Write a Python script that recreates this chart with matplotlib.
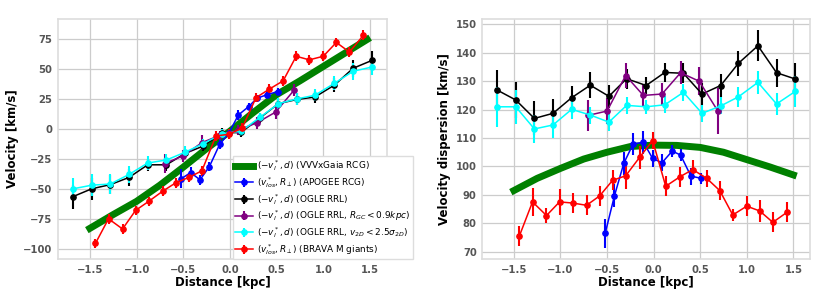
import matplotlib
matplotlib.use('Agg')
from matplotlib import pyplot as plt

# model curve (VVVxGaia RCG)
x_model = [-1.5, -1.25, -1.0, -0.75, -0.5, -0.25, 0.0, 0.25, 0.5, 0.75, 1.0, 1.25, 1.47]
v_model = [-82.5, -71, -60, -46.5, -31.5, -16, -1.5, 14, 29, 40.5, 52.5, 64.5, 75]
x_model_s = [-1.5, -1.25, -1.0, -0.75, -0.5, -0.25, 0.0, 0.25, 0.5, 0.75, 1.0, 1.25, 1.5]
s_model = [91.5, 95.8, 99.3, 102.6, 105.0, 107.0, 107.5, 107.4, 106.7, 105.0, 102.4, 99.8, 97.0]

# APOGEE RCG
x_apo = [-0.52, -0.42, -0.32, -0.22, -0.11, -0.01, 0.09, 0.20, 0.29, 0.40, 0.51]
v_apo = [-41, -36, -42, -31, -12.5, -3, 12, 19, 26, 29, 31.5]
ve_apo = [8, 5, 4, 4, 4, 3, 4, 3, 3, 3, 3]
s_apo = [76.4, 89.7, 101.1, 107.9, 108.5, 102.8, 101.3, 105.4, 104.0, 96.6, 95.8]
se_apo = [5, 4, 4, 4, 4, 3, 3, 2, 2, 3, 2]

# OGLE RRL
x_rrl = [-1.68, -1.48, -1.28, -1.08, -0.88, -0.68, -0.48, -0.29, -0.08, 0.12,
         0.32, 0.52, 0.72, 0.91, 1.12, 1.32, 1.52]
v_rrl = [-56, -49.5, -46, -40, -29.5, -29.5, -20, -14, -3, -2.5, 9.5, 21.5, 25, 27, 37, 51, 57.5]
ve_rrl = [10, 9, 8, 7, 5, 5, 4, 4, 4, 4, 4, 5, 5, 5, 6, 7, 8]
s_rrl = [126.9, 123.4, 116.9, 118.7, 124.2, 128.6, 124.7, 130.9, 128.5, 133.1,
         132.8, 125.5, 128.5, 136.3, 142.5, 133.0, 130.8]
se_rrl = [7, 6.5, 6, 5, 4, 4.5, 4, 3.5, 3, 3.5, 3.5, 4, 4, 4.5, 5.5, 5, 5.5]

# OGLE RRL, R_GC < 0.9 kpc
x_rgc = [-0.70, -0.50, -0.30, -0.11, 0.09, 0.29, 0.49, 0.69]
v_rgc = [-28.5, -22, -11, -5, -0.5, 5.5, 14.5, 33]
ve_rgc = [8, 5, 6, 4, 4, 5, 6, 5]
s_rgc = [118.0, 119.5, 132.0, 125.0, 125.5, 133.0, 130.0, 119.5]
se_rgc = [5.5, 4.5, 4.5, 4, 4, 4, 5, 8]

# OGLE RRL, v2D < 2.5 sigma2D
v_cut = [-49.5, -46.5, -45.5, -37.5, -28, -25.5, -19, -12, -3.5, -1.5, 10, 21.5, 25.5, 28.5, 38.5, 48.5, 52]
ve_cut = [9, 9, 8, 7, 6, 5, 5, 4, 4, 4, 4, 5, 5, 5, 6, 7, 7]
s_cut = [121.0, 121.0, 113.2, 114.6, 120.1, 118.1, 115.6, 121.5, 121.0, 121.7,
         126.1, 118.7, 121.3, 124.5, 129.6, 122.0, 126.4]
se_cut = [7, 6, 5, 4.5, 3.5, 3, 3, 3, 2.5, 3, 3, 3, 3, 3.5, 4, 4, 5.5]

# BRAVA M giants
x_brava = [-1.44, -1.30, -1.15, -1.01, -0.87, -0.72, -0.58, -0.44, -0.30, -0.15, -0.01,
           0.13, 0.28, 0.42, 0.57, 0.71, 0.85, 1.00, 1.14, 1.28, 1.43]
v_brava = [-95, -74.5, -83, -67.5, -60, -51.5, -44.5, -40, -34.5, -5.5, -4,
           1, 26.5, 33.5, 40.5, 61, 58, 61, 72.5, 64.5, 78.5]
ve_brava = [4] * 21
s_brava = [75.6, 87.5, 82.7, 87.5, 87.1, 86.3, 89.6, 95.1, 96.7, 103.2, 109.1,
           93.0, 96.3, 98.9, 95.8, 91.5, 82.9, 86.0, 84.3, 80.3, 83.8]
se_brava = [3.5, 5, 2.5, 4.5, 3.5, 3.5, 3.5, 3.5, 4.5, 4, 3, 3.5, 3.5, 3.5, 3, 3.5, 2, 3.5, 4, 3.5, 3.5]

labels = [
    r'$(-v_l^*, d)$ (VVVxGaia RCG)',
    r'$(v_{los}^*, R_\perp)$ (APOGEE RCG)',
    r'$(-v_l^*, d)$ (OGLE RRL)',
    r'$(-v_l^*, d)$ (OGLE RRL, $R_{GC} < 0.9kpc$)',
    r'$(-v_l^*, d)$ (OGLE RRL, $v_{2D} < 2.5\sigma_{2D}$)',
    r'$(v_{los}^*, R_\perp)$ (BRAVA M giants)',
]

fig = plt.figure(figsize=(8.3, 2.98), dpi=100)
ax1 = fig.add_axes([0.070, 0.131, 0.396, 0.805])
ax2 = fig.add_axes([0.581, 0.131, 0.395, 0.805])

eb = dict(fmt='-o', ms=3.8, lw=1.1, elinewidth=1.5, capsize=0)


def panel(ax, mx, my, sets):
    ax.plot(mx, my, color='green', lw=5, label=labels[0], zorder=2)
    for (x, y, e, c), lab in zip(sets, labels[1:]):
        ax.errorbar(x, y, yerr=e, color=c, label=lab, zorder=3, **eb)
    ax.grid(True, color='#cccccc', lw=0.9)
    ax.set_axisbelow(True)
    for s in ax.spines.values():
        s.set_color('#dddddd')
        s.set_linewidth(1.2)
    ax.tick_params(length=0, labelsize=7.2, labelcolor='#555555', pad=4)
    ax.set_xlim(-1.84, 1.68)
    ax.set_xlabel('Distance [kpc]', fontsize=8.5, fontweight='bold', labelpad=1)


panel(ax1, x_model, v_model, [
    (x_apo, v_apo, ve_apo, 'blue'),
    (x_rrl, v_rrl, ve_rrl, 'black'),
    (x_rgc, v_rgc, ve_rgc, 'purple'),
    (x_rrl, v_cut, ve_cut, 'cyan'),
    (x_brava, v_brava, ve_brava, 'red'),
])
ax1.set_ylim(-108, 92)
ax1.set_yticks([-100, -75, -50, -25, 0, 25, 50, 75])
ax1.set_ylabel('Velocity [km/s]', fontsize=8.5, fontweight='bold', labelpad=3)
for t in ax1.get_xticklabels() + ax1.get_yticklabels():
    t.set_fontweight('bold')
leg = ax1.legend(loc='lower right', bbox_to_anchor=(1.08, 0.0), fontsize=6.4,
                 frameon=True, handlelength=2.0, borderpad=0.25, labelspacing=0.2,
                 handletextpad=0.5, borderaxespad=0.0, framealpha=1.0, fancybox=False)
leg.get_frame().set_edgecolor('#dddddd')
leg.get_frame().set_linewidth(1.0)

panel(ax2, x_model_s, s_model, [
    (x_apo, s_apo, se_apo, 'blue'),
    (x_rrl, s_rrl, se_rrl, 'black'),
    (x_rgc, s_rgc, se_rgc, 'purple'),
    (x_rrl, s_cut, se_cut, 'cyan'),
    (x_brava, s_brava, se_brava, 'red'),
])
ax2.set_ylim(67.4, 151.9)
ax2.set_yticks([70, 80, 90, 100, 110, 120, 130, 140, 150])
ax2.set_ylabel('Velocity dispersion [km/s]', fontsize=8.5, fontweight='bold', labelpad=3)
for t in ax2.get_xticklabels() + ax2.get_yticklabels():
    t.set_fontweight('bold')

fig.savefig('out.png', dpi=100)
